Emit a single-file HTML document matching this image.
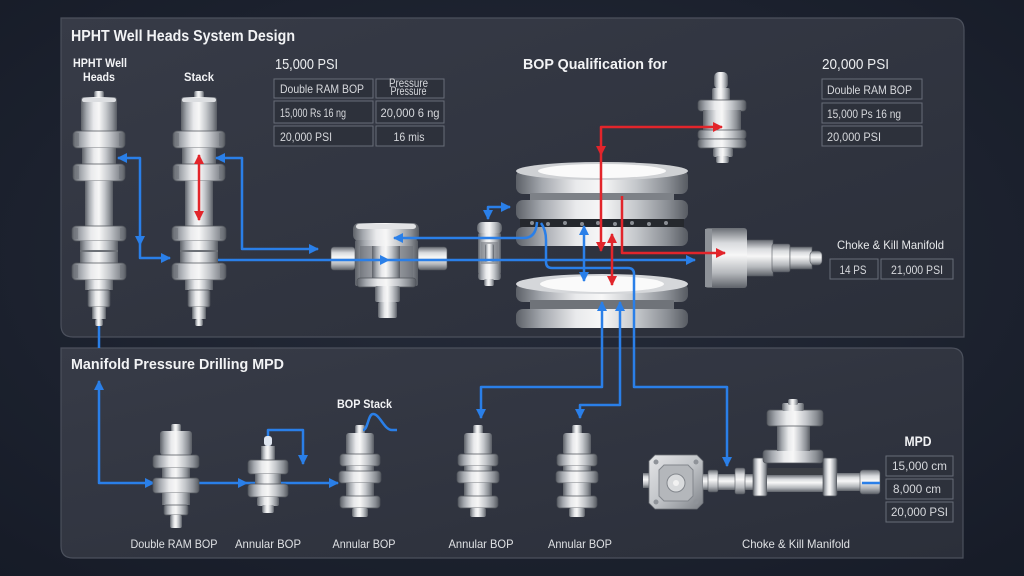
<!DOCTYPE html>
<html><head><meta charset="utf-8"><style>
html,body{margin:0;padding:0;background:#1c2231;}
svg{display:block;}
text{font-family:"Liberation Sans",sans-serif;}
.mt{fill:url(#m);}
.fl{fill:url(#m);stroke:#4f535a;stroke-width:.7;}
.mh{fill:url(#mv);}
.mhs{fill:url(#mv);stroke:#53575e;stroke-width:.6;}
.b{fill:none;stroke:#2a7fe8;stroke-width:2.5;stroke-linejoin:round;}
.r{fill:none;stroke:#e2252b;stroke-width:2.5;stroke-linejoin:round;}
.cell{fill:#2d313b;stroke:#686d78;stroke-width:1;}
.tt{fill:#d6d8dc;font-size:12px;}
.lb{fill:#dfe1e4;font-size:12px;}
.hd{fill:#f2f3f5;font-weight:bold;}
</style></head><body>
<svg width="1024" height="576" viewBox="0 0 1024 576" xmlns="http://www.w3.org/2000/svg">
<defs>
<radialGradient id="bg" cx="0.5" cy="0.45" r="0.75">
 <stop offset="0" stop-color="#262c3a"/><stop offset="1" stop-color="#161b27"/>
</radialGradient>
<linearGradient id="pn" x1="0" y1="0" x2="1" y2="1">
 <stop offset="0" stop-color="#373b47"/><stop offset="1" stop-color="#2b2f3a"/>
</linearGradient>
<linearGradient id="m" x1="0" y1="0" x2="1" y2="0">
 <stop offset="0" stop-color="#5d6168"/>
 <stop offset="0.15" stop-color="#a4a8ae"/>
 <stop offset="0.35" stop-color="#e9eaec"/>
 <stop offset="0.5" stop-color="#f7f7f7"/>
 <stop offset="0.7" stop-color="#c4c7cb"/>
 <stop offset="0.88" stop-color="#8b8f95"/>
 <stop offset="1" stop-color="#575b62"/>
</linearGradient>
<linearGradient id="mv" x1="0" y1="0" x2="0" y2="1">
 <stop offset="0" stop-color="#6a6e75"/>
 <stop offset="0.25" stop-color="#d9dbde"/>
 <stop offset="0.45" stop-color="#f7f7f7"/>
 <stop offset="0.75" stop-color="#b5b8bc"/>
 <stop offset="1" stop-color="#5e6269"/>
</linearGradient>
<linearGradient id="md" x1="0" y1="0" x2="1" y2="1">
 <stop offset="0" stop-color="#e4e5e7"/>
 <stop offset="0.5" stop-color="#c2c5c9"/>
 <stop offset="1" stop-color="#7d8187"/>
</linearGradient>
<marker id="ab" viewBox="0 0 10 10" refX="9" refY="5" markerWidth="4" markerHeight="4" orient="auto-start-reverse" markerUnits="strokeWidth"><path d="M0,0L10,5L0,10z" fill="#2a7fe8"/></marker>
<marker id="ar" viewBox="0 0 10 10" refX="9" refY="5" markerWidth="4" markerHeight="4" orient="auto-start-reverse" markerUnits="strokeWidth"><path d="M0,0L10,5L0,10z" fill="#e2252b"/></marker>
<g id="tall">
 <rect class="mt" x="-5" y="91" width="10" height="8" rx="2"/>
 <rect class="mt" x="-18" y="97" width="36" height="35" rx="3"/>
 <rect x="-17" y="98" width="34" height="4" rx="2" fill="#dcdee1"/>
 <rect class="fl" x="-26" y="131" width="52" height="17" rx="4"/>
 <rect class="mt" x="-17" y="148" width="34" height="16"/>
 <rect class="fl" x="-26" y="164" width="52" height="17" rx="4"/>
 <rect class="mt" x="-14" y="181" width="28" height="45"/>
 <rect class="fl" x="-27" y="226" width="54" height="15" rx="4"/>
 <rect class="mt" x="-19" y="241" width="38" height="22"/>
 <rect x="-19" y="250" width="38" height="2" fill="#6c7076"/>
 <rect class="fl" x="-27" y="263" width="54" height="17" rx="4"/>
 <rect class="mt" x="-14" y="280" width="28" height="10"/>
 <rect class="fl" x="-11" y="290" width="22" height="17" rx="2"/>
 <rect class="mt" x="-7" y="307" width="14" height="12"/>
 <rect class="mt" x="-4" y="319" width="8" height="7" rx="2"/>
 <g fill="#6f737a" opacity="0.55">
  <rect x="-23" y="133" width="3" height="13"/><rect x="20" y="133" width="3" height="13"/>
  <rect x="-23" y="166" width="3" height="13"/><rect x="20" y="166" width="3" height="13"/>
  <rect x="-24" y="228" width="3" height="11"/><rect x="21" y="228" width="3" height="11"/>
  <rect x="-24" y="265" width="3" height="13"/><rect x="21" y="265" width="3" height="13"/>
 </g>
</g>
<g id="ann">
 <rect class="mt" x="-5" y="425" width="10" height="10" rx="2"/>
 <rect class="mt" x="-14" y="433" width="28" height="22" rx="3"/>
 <rect class="fl" x="-20" y="454" width="40" height="12" rx="3"/>
 <rect class="mt" x="-14" y="466" width="28" height="6"/>
 <rect class="fl" x="-21" y="471" width="42" height="12" rx="3"/>
 <rect class="mt" x="-14" y="483" width="28" height="14"/>
 <rect class="fl" x="-20" y="496" width="40" height="12" rx="3"/>
 <rect class="mt" x="-8" y="508" width="16" height="9" rx="2"/>
</g>
</defs>

<rect x="0" y="0" width="1024" height="576" fill="url(#bg)"/>

<!-- panels -->
<path d="M61,18 L952,18 Q964,18 964,30 L964,337 L73,337 Q61,337 61,325 Z" fill="url(#pn)" stroke="#4b505c" stroke-width="1.2"/>
<path d="M61,348 L951,348 Q963,348 963,360 L963,558 L73,558 Q61,558 61,546 Z" fill="url(#pn)" stroke="#4b505c" stroke-width="1.2"/>

<!-- lower panel lines behind components -->
<path class="b" d="M99,381 L99,483 L338,483" marker-start="url(#ab)" marker-end="url(#ab)"/>
<polygon points="145,478 145,488 155,483" fill="#2a7fe8"/>
<polygon points="238,478 238,488 248,483" fill="#2a7fe8"/>

<!-- top columns -->
<use href="#tall" x="99"/>
<use href="#tall" x="199"/>

<!-- valve 1 -->
<rect class="mhs" x="331" y="247" width="24" height="23" rx="3"/>
<rect class="mhs" x="418" y="247" width="29" height="23" rx="3"/>
<rect class="mt" x="353" y="223" width="66" height="18" rx="6"/>
<rect x="356" y="224" width="60" height="5" rx="3" fill="#e2e3e5"/>
<rect class="mt" x="355" y="240" width="63" height="46" rx="2"/>
<rect x="360" y="246" width="53" height="32" fill="#6a6e74" opacity="0.55"/>
<rect class="mt" x="372" y="246" width="28" height="32"/>
<rect class="fl" x="357" y="278" width="59" height="9" rx="3"/>
<rect class="mt" x="375" y="286" width="25" height="16" rx="2"/>
<rect class="mt" x="378" y="302" width="19" height="16" rx="2"/>

<!-- small valve -->
<rect class="mt" x="477" y="222" width="25" height="12" rx="5"/>
<rect class="mt" x="478" y="233" width="23" height="41" rx="2"/>
<rect x="481" y="242" width="17" height="22" fill="#7b7f85" opacity="0.6"/>
<rect class="mt" x="485" y="244" width="9" height="18" rx="2"/>
<rect class="mt" x="478" y="272" width="23" height="8" rx="3"/>
<rect class="mt" x="484" y="279" width="10" height="7" rx="2"/>

<!-- center upper BOP -->
<rect class="mt" x="516" y="170" width="172" height="24" rx="7"/>
<ellipse cx="602" cy="171" rx="86" ry="9" fill="#cfd1d4"/>
<ellipse cx="602" cy="171" rx="64" ry="7" fill="#fafafa"/>
<rect x="530" y="193" width="144" height="8" fill="#7d8187"/>
<rect class="mt" x="516" y="200" width="172" height="20" rx="7"/>
<rect x="520" y="219" width="164" height="9" fill="#25282d"/>
<g fill="#8a8e94">
 <circle cx="532" cy="223" r="2"/><circle cx="548" cy="224" r="2"/><circle cx="565" cy="223" r="2"/><circle cx="582" cy="224" r="2"/><circle cx="598" cy="223" r="2"/><circle cx="615" cy="224" r="2"/><circle cx="632" cy="223" r="2"/><circle cx="649" cy="224" r="2"/><circle cx="666" cy="223" r="2"/>
</g>
<rect class="mt" x="516" y="227" width="172" height="19" rx="7"/>

<!-- center lower BOP -->
<rect class="mt" x="516" y="283" width="172" height="19" rx="7"/>
<ellipse cx="602" cy="284" rx="86" ry="10" fill="#d5d7da"/>
<ellipse cx="602" cy="284" rx="62" ry="8" fill="#fafafa"/>
<rect x="530" y="300" width="144" height="10" fill="#6f7379"/>
<rect class="mt" x="516" y="309" width="172" height="19" rx="7"/>

<!-- top small valve -->
<rect class="mt" x="714" y="72" width="14" height="17" rx="5"/>
<rect class="mt" x="712" y="88" width="18" height="13" rx="2"/>
<rect class="fl" x="698" y="100" width="48" height="11" rx="3"/>
<rect class="mt" x="703" y="110" width="38" height="21"/>
<rect class="fl" x="698" y="130" width="48" height="9" rx="3"/>
<rect class="fl" x="698" y="139" width="48" height="9" rx="3"/>
<rect class="mt" x="713" y="148" width="20" height="9" rx="2"/>
<rect class="mt" x="716" y="156" width="13" height="7" rx="2"/>

<!-- choke top right -->
<rect class="mhs" x="746" y="240" width="27" height="36"/>
<rect class="mhs" x="772" y="244" width="18" height="28" rx="2"/>
<rect class="mhs" x="790" y="247" width="22" height="22"/>
<rect class="mhs" x="810" y="251" width="12" height="14" rx="4"/>
<rect class="mh" x="705" y="228" width="42" height="60" rx="3"/>
<rect x="705" y="229" width="7" height="58" fill="#8e9298"/>

<!-- bottom components -->
<!-- double RAM BOP -->
<rect class="mt" x="171" y="424" width="10" height="8" rx="2"/>
<rect class="mt" x="160" y="431" width="32" height="24" rx="3"/>
<rect class="fl" x="153" y="455" width="46" height="13" rx="3"/>
<rect class="mt" x="162" y="468" width="28" height="10"/>
<rect class="fl" x="153" y="478" width="46" height="15" rx="3"/>
<rect class="mt" x="162" y="493" width="28" height="12"/>
<rect class="fl" x="164" y="505" width="24" height="10" rx="2"/>
<rect class="mt" x="170" y="515" width="12" height="13" rx="2"/>
<!-- small annular -->
<rect x="264" y="436" width="8" height="10" rx="3" fill="#dfe6f0"/>
<rect class="mt" x="261" y="446" width="14" height="14"/>
<rect class="fl" x="248" y="460" width="40" height="14" rx="3"/>
<rect class="mt" x="255" y="474" width="26" height="10"/>
<rect class="fl" x="248" y="484" width="40" height="13" rx="3"/>
<rect class="mt" x="257" y="497" width="22" height="9" rx="2"/>
<rect class="mt" x="262" y="505" width="12" height="8" rx="2"/>
<use href="#ann" x="360"/>
<use href="#ann" x="478"/>
<use href="#ann" x="577"/>

<!-- bottom choke & kill -->
<rect class="mh" x="643" y="473" width="8" height="15"/>
<path d="M655,455 L697,455 L703,461 L703,503 L697,509 L655,509 L649,503 L649,461 Z" fill="url(#md)" stroke="#6d7177" stroke-width="0.8"/>
<path d="M664,465 L688,465 L693,470 L693,496 L688,501 L664,501 L659,496 L659,470 Z" fill="#b4b7bb" stroke="#83878d"/>
<circle cx="676" cy="483" r="9" fill="#d9dbdd" stroke="#83878d"/>
<circle cx="676" cy="483" r="3" fill="#f2f2f2"/>
<g fill="#8f9399"><circle cx="656" cy="462" r="2.5"/><circle cx="696" cy="462" r="2.5"/><circle cx="656" cy="502" r="2.5"/><circle cx="696" cy="502" r="2.5"/></g>
<rect class="mh" x="703" y="474" width="52" height="16"/>
<rect class="mhs" x="708" y="470" width="10" height="22" rx="2"/>
<rect class="mhs" x="735" y="468" width="10" height="26" rx="2"/>
<rect class="fl" x="753" y="458" width="14" height="38" rx="2"/>
<rect x="767" y="468" width="56" height="7" fill="#3b3e44"/>
<rect class="mh" x="767" y="475" width="56" height="17"/>
<rect class="fl" x="823" y="458" width="14" height="38" rx="2"/>
<rect class="mh" x="837" y="473" width="24" height="18"/>
<rect class="mhs" x="860" y="470" width="20" height="24" rx="3"/>
<rect class="fl" x="763" y="450" width="60" height="13" rx="3"/>
<rect class="mt" x="777" y="425" width="33" height="26"/>
<rect class="fl" x="767" y="410" width="56" height="16" rx="3"/>
<rect class="mt" x="782" y="403" width="22" height="8" rx="2"/>
<rect class="mt" x="788" y="399" width="10" height="6" rx="2"/>

<!-- upper blue lines -->
<path class="b" d="M118,158 L140,158 L140,258 L170,258" marker-start="url(#ab)" marker-end="url(#ab)"/>
<polygon points="135,236 145,236 140,246" fill="#2a7fe8"/>
<path class="b" d="M216,158 L242,158 L242,249 L318,249" marker-start="url(#ab)" marker-end="url(#ab)"/>
<path class="b" d="M218,260 L695,260" marker-end="url(#ab)"/>
<polygon points="380,255 380,265 390,260" fill="#2a7fe8"/>
<path class="b" d="M537,222 Q536,238 524,238 L394,238" marker-end="url(#ab)"/>
<path class="b" d="M488,219 L488,207 L510,207" marker-start="url(#ab)" marker-end="url(#ab)"/>
<path class="b" d="M541,223 Q546,230 546,240 L546,262 Q546,268 552,268 L628,268 Q634,268 634,274 L634,387 L727,387 L727,466" marker-end="url(#ab)"/>
<path class="b" d="M584,226 L584,281" marker-start="url(#ab)" marker-end="url(#ab)"/>
<path class="b" d="M602,302 L602,387 L481,387 L481,418" marker-start="url(#ab)" marker-end="url(#ab)"/>
<path class="b" d="M620,302 L620,405 L580,405 L580,418" marker-start="url(#ab)" marker-end="url(#ab)"/>
<path class="b" d="M99,326 L99,348"/>
<path class="b" d="M268,436 L268,430 L303,430 L303,464" marker-end="url(#ab)"/>
<path class="b" d="M363,430 C368,430 368,414 373,414 C380,414 384,430 392,430 L397,430" stroke-width="1.6"/>
<path class="b" d="M862,483 L880,483"/>

<!-- red lines -->
<path class="r" d="M199,155 L199,220" marker-start="url(#ar)" marker-end="url(#ar)"/>
<path class="r" d="M601,251 L601,127 L722,127" marker-start="url(#ar)" marker-end="url(#ar)"/>
<polygon points="596,146 606,146 601,156" fill="#e2252b"/>
<path class="r" d="M622,196 L622,253 L725,253" marker-end="url(#ar)"/>
<path class="r" d="M612,234 L612,285" marker-start="url(#ar)" marker-end="url(#ar)"/>

<!-- titles -->
<text class="hd" x="71" y="41" font-size="16" textLength="224" lengthAdjust="spacingAndGlyphs">HPHT Well Heads System Design</text>
<text class="hd" x="71" y="369" font-size="15" textLength="213" lengthAdjust="spacingAndGlyphs">Manifold Pressure Drilling MPD</text>
<text class="hd" x="100" y="67" font-size="11.5" text-anchor="middle" textLength="54" lengthAdjust="spacingAndGlyphs">HPHT Well</text>
<text class="hd" x="99" y="81" font-size="11.5" text-anchor="middle" textLength="32" lengthAdjust="spacingAndGlyphs">Heads</text>
<text class="hd" x="199" y="81" font-size="11.5" text-anchor="middle" textLength="30" lengthAdjust="spacingAndGlyphs">Stack</text>
<text x="275" y="69" font-size="15" fill="#eceef0" textLength="63" lengthAdjust="spacingAndGlyphs">15,000 PSI</text>
<text class="hd" x="523" y="69" font-size="15" textLength="144" lengthAdjust="spacingAndGlyphs">BOP Qualification for</text>
<text x="822" y="69" font-size="15" fill="#eceef0" textLength="67" lengthAdjust="spacingAndGlyphs">20,000 PSI</text>

<!-- table 1 -->
<rect class="cell" x="274" y="79" width="99" height="19"/>
<rect class="cell" x="376" y="79" width="68" height="19"/>
<rect class="cell" x="274" y="101" width="99" height="22"/>
<rect class="cell" x="376" y="101" width="68" height="22"/>
<rect class="cell" x="274" y="126" width="99" height="20"/>
<rect class="cell" x="376" y="126" width="68" height="20"/>
<text class="tt" x="280" y="93" textLength="84" lengthAdjust="spacingAndGlyphs">Double RAM BOP</text>
<text class="tt" x="408.5" y="87" font-size="8.5" text-anchor="middle" textLength="39" lengthAdjust="spacingAndGlyphs">Pressure</text>
<text class="tt" x="408.5" y="95" font-size="6" text-anchor="middle" textLength="36" lengthAdjust="spacingAndGlyphs" fill="#b9bcc2">Pressure</text>
<text class="tt" x="280" y="117" textLength="66" lengthAdjust="spacingAndGlyphs">15,000 Rs 16 ng</text>
<text class="tt" x="410" y="117" text-anchor="middle" textLength="59" lengthAdjust="spacingAndGlyphs">20,000 6 ng</text>
<text class="tt" x="280" y="141" textLength="52" lengthAdjust="spacingAndGlyphs">20,000 PSI</text>
<text class="tt" x="409" y="141" text-anchor="middle" textLength="31" lengthAdjust="spacingAndGlyphs">16 mis</text>

<!-- table 2 -->
<rect class="cell" x="822" y="79" width="100" height="20"/>
<rect class="cell" x="822" y="103" width="100" height="20"/>
<rect class="cell" x="822" y="126" width="100" height="20"/>
<text class="tt" x="827" y="94" textLength="85" lengthAdjust="spacingAndGlyphs">Double RAM BOP</text>
<text class="tt" x="827" y="118" textLength="74" lengthAdjust="spacingAndGlyphs">15,000 Ps 16 ng</text>
<text class="tt" x="827" y="141" textLength="54" lengthAdjust="spacingAndGlyphs">20,000 PSI</text>

<!-- choke labels top -->
<text x="837" y="249" font-size="12" fill="#e6e8ea" textLength="107" lengthAdjust="spacingAndGlyphs">Choke &amp; Kill Manifold</text>
<rect class="cell" x="830" y="259" width="48" height="20"/>
<rect class="cell" x="881" y="259" width="72" height="20"/>
<text class="tt" x="853" y="274" text-anchor="middle" textLength="27" lengthAdjust="spacingAndGlyphs">14 PS</text>
<text class="tt" x="917" y="274" text-anchor="middle" textLength="52" lengthAdjust="spacingAndGlyphs">21,000 PSI</text>

<!-- bottom labels -->
<text class="hd" x="337" y="408" font-size="11.5" textLength="55" lengthAdjust="spacingAndGlyphs">BOP Stack</text>
<text class="lb" x="174" y="548" text-anchor="middle" textLength="87" lengthAdjust="spacingAndGlyphs">Double RAM BOP</text>
<text class="lb" x="268" y="548" text-anchor="middle" textLength="66" lengthAdjust="spacingAndGlyphs">Annular BOP</text>
<text class="lb" x="364" y="548" text-anchor="middle" textLength="63" lengthAdjust="spacingAndGlyphs">Annular BOP</text>
<text class="lb" x="481" y="548" text-anchor="middle" textLength="65" lengthAdjust="spacingAndGlyphs">Annular BOP</text>
<text class="lb" x="580" y="548" text-anchor="middle" textLength="64" lengthAdjust="spacingAndGlyphs">Annular BOP</text>
<text class="lb" x="796" y="548" text-anchor="middle" textLength="108" lengthAdjust="spacingAndGlyphs">Choke &amp; Kill Manifold</text>

<!-- MPD -->
<text class="hd" x="918" y="446" font-size="14" text-anchor="middle" textLength="27" lengthAdjust="spacingAndGlyphs">MPD</text>
<rect class="cell" x="886" y="456" width="67" height="20"/>
<rect class="cell" x="886" y="479" width="67" height="20"/>
<rect class="cell" x="886" y="502" width="67" height="20"/>
<text class="tt" x="919.5" y="470" font-size="11" text-anchor="middle" textLength="55" lengthAdjust="spacingAndGlyphs">15,000 cm</text>
<text class="tt" x="917" y="493" font-size="11" text-anchor="middle" textLength="48" lengthAdjust="spacingAndGlyphs">8,000 cm</text>
<text class="tt" x="919.5" y="516" font-size="11" text-anchor="middle" textLength="57" lengthAdjust="spacingAndGlyphs">20,000 PSI</text>
</svg>
</body></html>
